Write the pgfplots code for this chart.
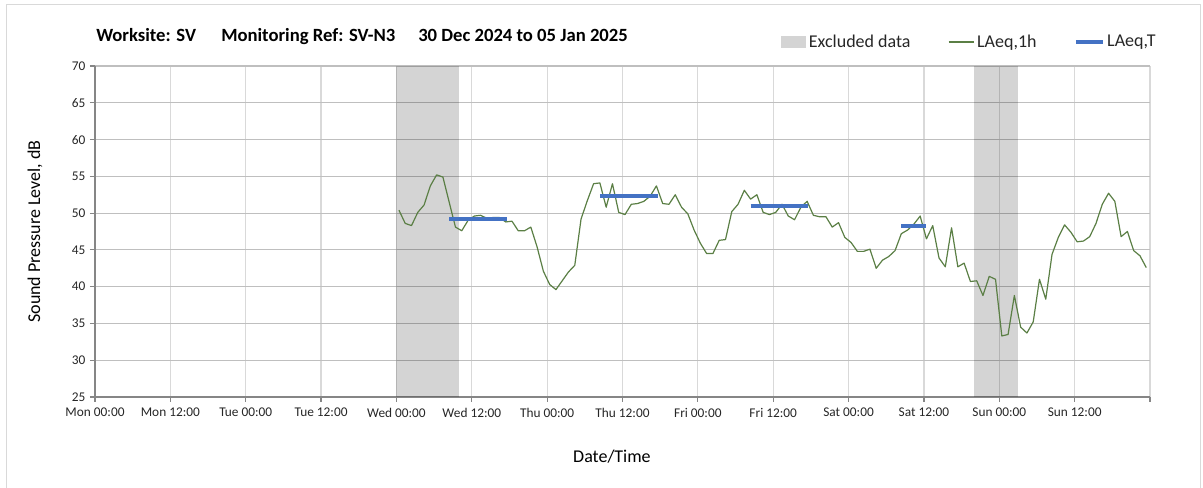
\documentclass[border=0pt]{standalone}
\usepackage{fontspec}
\setmainfont{Carlito}
\usepackage{pgfplots}
\pgfplotsset{compat=1.18}
\usepackage{pgfplotstable}

\definecolor{laeqgreen}{HTML}{5B7F45}
\definecolor{laeqblue}{HTML}{4472C4}
\definecolor{exclgray}{HTML}{D4D4D4}
\definecolor{axisgray}{HTML}{868686}
\definecolor{hgrid}{HTML}{BFBFBF}
\definecolor{vgrid}{HTML}{D9D9D9}
\definecolor{txt}{HTML}{262626}

\pgfplotsset{
  shortline/.style={legend image code/.code={\draw[##1] (0pt,0pt) -- (#1,0pt);}},
  greybox/.style={legend image code/.code={\fill[exclgray, fill opacity=1] (0pt,-4.5pt) rectangle (19pt,4.5pt);}},
}

% hourly LAeq,1h (hours from Mon 00:00)
\pgfplotstableread{
h     L
48.4  50.4
49.4  48.6
50.4  48.3
51.4  50.1
52.4  51.1
53.4  53.7
54.4  55.2
55.4  54.9
56.4  51.5
57.4  48.1
58.4  47.6
59.4  49.0
60.4  49.6
61.4  49.7
62.4  49.3
63.4  49.4
64.4  49.4
65.4  48.8
66.4  48.9
67.4  47.6
68.4  47.6
69.4  48.1
70.4  45.4
71.4  42.1
72.4  40.3
73.4  39.6
74.4  40.8
75.4  42.0
76.4  42.9
77.4  49.2
78.4  51.7
79.4  54.0
80.4  54.1
81.4  50.8
82.4  54.0
83.4  50.1
84.4  49.8
85.4  51.2
86.4  51.3
87.4  51.6
88.4  52.3
89.4  53.7
90.4  51.3
91.4  51.2
92.4  52.5
93.4  50.8
94.4  49.9
95.4  47.7
96.4  45.9
97.4  44.5
98.4  44.5
99.4  46.3
100.4 46.4
101.4 50.2
102.4 51.2
103.4 53.1
104.4 51.9
105.4 52.5
106.4 50.1
107.4 49.8
108.4 50.1
109.4 51.2
110.4 49.6
111.4 49.1
112.4 50.8
113.4 51.6
114.4 49.7
115.4 49.5
116.4 49.5
117.4 48.1
118.4 48.7
119.4 46.7
120.4 46.0
121.4 44.8
122.4 44.8
123.4 45.1
124.4 42.5
125.4 43.6
126.4 44.1
127.4 44.9
128.4 47.2
129.4 47.7
130.4 48.5
131.4 49.6
132.4 46.5
133.4 48.3
134.4 43.9
135.4 42.7
136.4 48.0
137.4 42.7
138.4 43.2
139.4 40.7
140.4 40.8
141.4 38.8
142.4 41.4
143.4 41.0
144.4 33.3
145.4 33.5
146.4 38.8
147.4 34.5
148.4 33.7
149.4 35.2
150.4 41.0
151.4 38.3
152.4 44.4
153.4 46.7
154.4 48.4
155.4 47.4
156.4 46.1
157.4 46.2
158.4 46.8
159.4 48.6
160.4 51.2
161.4 52.7
162.4 51.6
163.4 46.8
164.4 47.5
165.4 44.9
166.4 44.2
167.4 42.6
}\hourly

% LAeq,T periods
\pgfplotstableread{
h     L
56.4  49.15
65.6  49.15
70    nan
80.4  52.3
89.6  52.3
95    nan
104.4 50.9
113.6 50.9
120   nan
128.4 48.2
132.4 48.2
}\periods

\begin{document}
\begin{tikzpicture}
\begin{axis}[
  at={(0pt,0pt)}, anchor=south west,
  width=791.25pt, height=248.25pt, scale only axis,
  xmin=0, xmax=168, ymin=25, ymax=70,
  xtick={0,12,...,168},
  xticklabels={Mon 00:00, Mon 12:00, Tue 00:00, Tue 12:00, Wed 00:00, Wed 12:00, Thu 00:00, Thu 12:00, Fri 00:00, Fri 12:00, Sat 00:00, Sat 12:00, Sun 00:00, Sun 12:00, {}},
  ytick={25,30,...,70},
  axis x line*=bottom, axis y line*=left,
  axis line style={axisgray, line width=0.9pt},
  tick style={axisgray, line width=0.9pt},
  tick align=outside, major tick length=3.75pt,
  grid=major,
  x grid style={vgrid, line width=0.9pt},
  y grid style={hgrid, line width=0.9pt},
  /pgf/number format/assume math mode=true,
  tick label style={font=\fontsize{10}{12}\selectfont, text=txt},
  xticklabel style={yshift=-1pt},
  xlabel={Date/Time}, ylabel={Sound Pressure Level, dB},
  label style={font=\fontsize{13.5}{16}\selectfont, text=black},
  xlabel style={at={(axis description cs:0.49,-0.1964)}, anchor=base},
  ylabel style={at={(axis description cs:-0.052,0.5)}, anchor=base},
  legend columns=3,
  legend style={draw=none, fill=none, at={(axis description cs:1.012,1.0725)}, anchor=east,
    font=\fontsize{13.5}{16}\selectfont, text=txt,
    /tikz/every even column/.append style={column sep=26pt}},
]
\addplot[draw=none, fill=black, fill opacity=0.17, greybox]
  coordinates {(48,25) (48,70) (58,70) (58,25)};
\addlegendentry{Excluded data}
\addplot[draw=none, fill=black, fill opacity=0.17, forget plot]
  coordinates {(140,25) (140,70) (147,70) (147,25)};

\addplot[laeqgreen, line width=0.9pt, line join=round, shortline=19pt]
  table[x=h, y=L] {\hourly};
\addlegendentry{LAeq,1h}

\addplot[laeqblue, line width=3pt, unbounded coords=jump, shortline=20pt]
  table[x=h, y=L] {\periods};
\addlegendentry{LAeq,T}
\end{axis}

\begin{scope}[x=0.75pt,y=0.75pt]
\useasboundingbox (-95,-91) rectangle (1108,397);
\draw[vgrid,line width=0.75pt] (-88,-91) -- (-88,392) -- (1105,392) -- (1105,-91);
\node[anchor=base west,font=\fontsize{14}{16}\bfseries\selectfont,text=black,inner sep=0] at (1,355) {Worksite: SV};
\node[anchor=base west,font=\fontsize{14}{16}\bfseries\selectfont,text=black,inner sep=0] at (126,355) {Monitoring Ref: SV-N3};
\node[anchor=base west,font=\fontsize{14}{16}\bfseries\selectfont,text=black,inner sep=0] at (323,355) {30 Dec 2024 to 05 Jan 2025};
\end{scope}
\end{tikzpicture}
\end{document}
